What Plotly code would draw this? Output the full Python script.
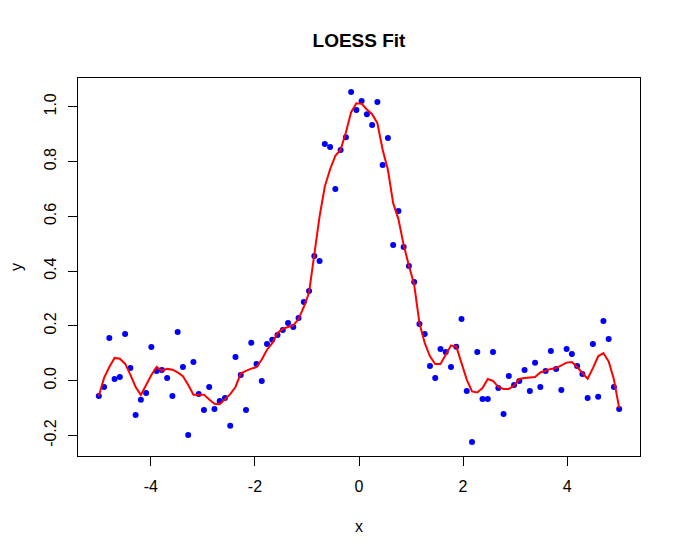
import numpy as np
import plotly.graph_objects as go

# Observed points: 100 x values evenly spaced from -5 to 5
x_start, x_end, n_points = -5.0, 5.0, 100
x_vals = np.linspace(x_start, x_end, n_points)

y_vals = [
    -0.056, -0.023, 0.156, 0.006, 0.0135, 0.170, 0.046, -0.125, -0.070, -0.045,
    0.123, 0.035, 0.039, 0.010, -0.056, 0.178,
    0.050, -0.198, 0.068, -0.049, -0.107, -0.023, -0.103, -0.074, -0.063, -0.165,
    0.086, 0.021, -0.107, 0.138, 0.061, -0.001,
    0.134, 0.149, 0.167, 0.185, 0.211, 0.196, 0.229, 0.287, 0.327, 0.455, 0.437,
    0.864, 0.853, 0.700, 0.842, 0.889, 1.054, 0.988, 1.021, 0.973,
    0.933, 1.017, 0.787, 0.886, 0.495, 0.619, 0.488, 0.419, 0.360,
    0.207, 0.170, 0.054, 0.010, 0.116, 0.105, 0.050, 0.124, 0.225, -0.038,
    -0.224, 0.105, -0.067, -0.067, 0.105, -0.027, -0.122, 0.017, -0.016, -0.001,
    0.039, -0.038, 0.065, -0.023, 0.035,
    0.108, 0.043, -0.034, 0.116, 0.097, 0.054, 0.024, -0.063, 0.134, -0.059,
    0.218, 0.152, -0.023, -0.103,
]

# LOESS fitted values at each x
fit_vals = [
    -0.056, 0.010, 0.050, 0.083, 0.080, 0.062, 0.022, -0.023, -0.052, -0.015,
    0.021, 0.050, 0.036, 0.043, 0.040, 0.030,
    0.016, -0.015, -0.051, -0.051, -0.051, -0.069, -0.084, -0.086, -0.069, -0.049,
    -0.023, 0.026, 0.036, 0.044, 0.049, 0.077,
    0.113, 0.137, 0.174, 0.189, 0.196, 0.202, 0.225, 0.269, 0.322, 0.455, 0.600,
    0.709, 0.772, 0.821, 0.843, 0.906, 0.980, 1.013, 1.011, 0.990,
    0.973, 0.940, 0.843, 0.770, 0.648, 0.590, 0.495, 0.420, 0.350,
    0.210, 0.138, 0.089, 0.061, 0.061, 0.095, 0.128, 0.125, 0.068, 0.004,
    -0.039, -0.043, -0.027, 0.006, -0.001, -0.023, -0.030, -0.030, -0.018, 0.006,
    0.010, 0.011, 0.013, 0.030, 0.036,
    0.043, 0.046, 0.057, 0.066, 0.068, 0.050, 0.028, 0.007, 0.046, 0.089,
    0.101, 0.070, 0.004, -0.100,
]

x_ticks = [-4, -2, 0, 2, 4]
y_ticks = [-0.2, 0.0, 0.2, 0.4, 0.6, 0.8, 1.0]
y_tick_labels = ["-0.2", "0.0", "0.2", "0.4", "0.6", "0.8", "1.0"]

FONT = "Liberation Sans, Arial, sans-serif"
W, H = 675, 546

fig = go.Figure()
fig.add_trace(go.Scatter(
    x=x_vals, y=y_vals, mode="markers",
    marker=dict(color="#0000FF", size=6, line=dict(width=0)),
    name="data", showlegend=False,
))
fig.add_trace(go.Scatter(
    x=x_vals, y=fit_vals, mode="lines",
    line=dict(color="#FF0000", width=2),
    name="LOESS", showlegend=False,
))

axis_common = dict(
    showgrid=False, zeroline=False, showline=True, mirror=True,
    linecolor="black", linewidth=1, ticks="outside", ticklen=9,
    tickcolor="black", tickwidth=1,
    tickfont=dict(family=FONT, size=16, color="black"),
)

fig.update_layout(
    width=W, height=H,
    margin=dict(l=70, r=43, t=70, b=98, autoexpand=False),
    paper_bgcolor="white", plot_bgcolor="white",
    title=dict(text="<b>LOESS Fit</b>", x=0.5, xref="paper", y=1 - 32 / H,
               yanchor="middle", xanchor="center",
               font=dict(family=FONT, size=19, color="black")),
    xaxis=dict(range=[-5.4, 5.4], tickvals=x_ticks, ticktext=[str(t) for t in x_ticks],
               title=dict(text="x", standoff=26, font=dict(family=FONT, size=16, color="black")),
               ticklabelstandoff=7, **axis_common),
    yaxis=dict(range=[-0.275, 1.105], tickvals=y_ticks, ticktext=y_tick_labels,
               tickangle=-90,
               title=dict(text="y", standoff=20, font=dict(family=FONT, size=16, color="black")),
               ticklabelstandoff=6, **axis_common),
)

fig.write_html("out.html")
